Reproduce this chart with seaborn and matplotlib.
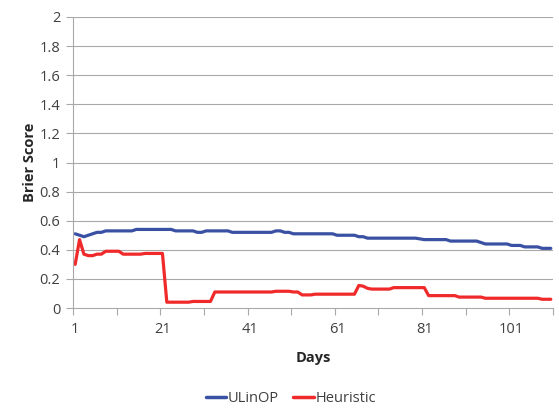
import matplotlib
matplotlib.use("Agg")
import matplotlib.pyplot as plt
from matplotlib.lines import Line2D
import numpy as np
import pandas as pd
import seaborn as sns

# Daily Brier scores for the two forecasting approaches (days 1..110)
days = list(range(1, 111))

ulinop = [
    0.51, 0.50, 0.49, 0.50, 0.51, 0.52, 0.52, 0.53, 0.53, 0.53,   # 1-10
    0.53, 0.53, 0.53, 0.53, 0.54, 0.54, 0.54, 0.54, 0.54, 0.54,   # 11-20
    0.54, 0.54, 0.54, 0.53, 0.53, 0.53, 0.53, 0.53, 0.52, 0.52,   # 21-30
    0.53, 0.53, 0.53, 0.53, 0.53, 0.53, 0.52, 0.52, 0.52, 0.52,   # 31-40
    0.52, 0.52, 0.52, 0.52, 0.52, 0.52, 0.53, 0.53, 0.52, 0.52,   # 41-50
    0.51, 0.51, 0.51, 0.51, 0.51, 0.51, 0.51, 0.51, 0.51, 0.51,   # 51-60
    0.50, 0.50, 0.50, 0.50, 0.50, 0.49, 0.49, 0.48, 0.48, 0.48,   # 61-70
    0.48, 0.48, 0.48, 0.48, 0.48, 0.48, 0.48, 0.48, 0.48, 0.475,  # 71-80
    0.47, 0.47, 0.47, 0.47, 0.47, 0.47, 0.46, 0.46, 0.46, 0.46,   # 81-90
    0.46, 0.46, 0.46, 0.45, 0.44, 0.44, 0.44, 0.44, 0.44, 0.44,   # 91-100
    0.43, 0.43, 0.43, 0.42, 0.42, 0.42, 0.42, 0.41, 0.41, 0.41,   # 101-110
]

heuristic = [
    0.30, 0.47, 0.37, 0.36, 0.36, 0.37, 0.37, 0.39, 0.39, 0.39,   # 1-10
    0.39, 0.37, 0.37, 0.37, 0.37, 0.37, 0.375, 0.375, 0.375, 0.375,  # 11-20
    0.375, 0.04, 0.04, 0.04, 0.04, 0.04, 0.04, 0.045, 0.045, 0.045,  # 21-30
    0.045, 0.045, 0.11, 0.11, 0.11, 0.11, 0.11, 0.11, 0.11, 0.11,   # 31-40
    0.11, 0.11, 0.11, 0.11, 0.11, 0.11, 0.115, 0.115, 0.115, 0.115,  # 41-50
    0.11, 0.11, 0.09, 0.09, 0.09, 0.095, 0.095, 0.095, 0.095, 0.095,  # 51-60
    0.095, 0.095, 0.095, 0.095, 0.095, 0.155, 0.15, 0.135, 0.13, 0.13,  # 61-70
    0.13, 0.13, 0.13, 0.14, 0.14, 0.14, 0.14, 0.14, 0.14, 0.14,   # 71-80
    0.14, 0.085, 0.085, 0.085, 0.085, 0.085, 0.085, 0.085, 0.075, 0.075,  # 81-90
    0.075, 0.075, 0.075, 0.075, 0.067, 0.067, 0.067, 0.067, 0.067, 0.067,  # 91-100
    0.067, 0.067, 0.067, 0.067, 0.067, 0.067, 0.067, 0.06, 0.06, 0.06,  # 101-110
]

series_names = ["ULinOP", "Heuristic"]
series_colors = ["#3a51a3", "#f02a2a"]
y_ticks = [0, 0.2, 0.4, 0.6, 0.8, 1.0, 1.2, 1.4, 1.6, 1.8, 2.0]
y_tick_labels = ["0", "0.2", "0.4", "0.6", "0.8", "1", "1.2", "1.4", "1.6", "1.8", "2"]
x_label_days = [1, 21, 41, 61, 81, 101]

df = pd.DataFrame({
    "Days": days * 2,
    "Brier Score": ulinop + heuristic,
    "Method": [series_names[0]] * len(days) + [series_names[1]] * len(days),
})

sns.set_theme(style="white")
plt.rcParams["font.family"] = ["Open Sans", "DejaVu Sans"]

fig = plt.figure(figsize=(5.59, 4.09), dpi=100)
ax = fig.add_axes([73 / 559, 1 - 308 / 409, 480 / 559, 291 / 409])

sns.lineplot(
    data=df, x="Days", y="Brier Score", hue="Method",
    palette=dict(zip(series_names, series_colors)),
    linewidth=2.3, legend=False, ax=ax,
)

grid_color = "#a9a9a9"
ax.set_xlim(0.5, 110.5)
ax.set_ylim(0, 2)
ax.set_yticks(y_ticks)
ax.set_yticklabels(y_tick_labels)
for y in y_ticks[1:]:
    ax.axhline(y, color=grid_color, linewidth=0.8, zorder=0)

# major tick marks between categories every 10 days, labels every 20 days
ax.set_xticks(x_label_days)
ax.set_xticks(np.arange(0.5, 111, 10), minor=True)
ax.tick_params(axis="x", which="major", length=0, pad=10, labelsize=10.5, labelcolor="#404040")
ax.tick_params(axis="x", which="minor", length=5, width=0.8, color=grid_color, direction="out", bottom=True)
ax.tick_params(axis="y", which="major", length=5, width=0.8, color=grid_color, direction="out",
               left=True, pad=4, labelsize=10.5, labelcolor="#404040")

for side in ["top", "right"]:
    ax.spines[side].set_visible(False)
for side in ["left", "bottom"]:
    ax.spines[side].set_color(grid_color)
    ax.spines[side].set_linewidth(0.8)

ax.set_xlabel("Days", fontsize=10.5, fontweight="bold", color="#262626", labelpad=10)
ax.set_ylabel("Brier Score", fontsize=10.5, fontweight="bold", color="#262626", labelpad=2)

handles = [Line2D([0], [0], color=c, linewidth=2.5) for c in series_colors]
fig.legend(handles, series_names, loc="center", bbox_to_anchor=(0.52, 1 - 399 / 409),
           ncol=2, frameon=False, fontsize=10.5, handlelength=1.4, handletextpad=0.1,
           columnspacing=1.0, labelcolor="#404040")

fig.savefig("out.png", dpi=100)
